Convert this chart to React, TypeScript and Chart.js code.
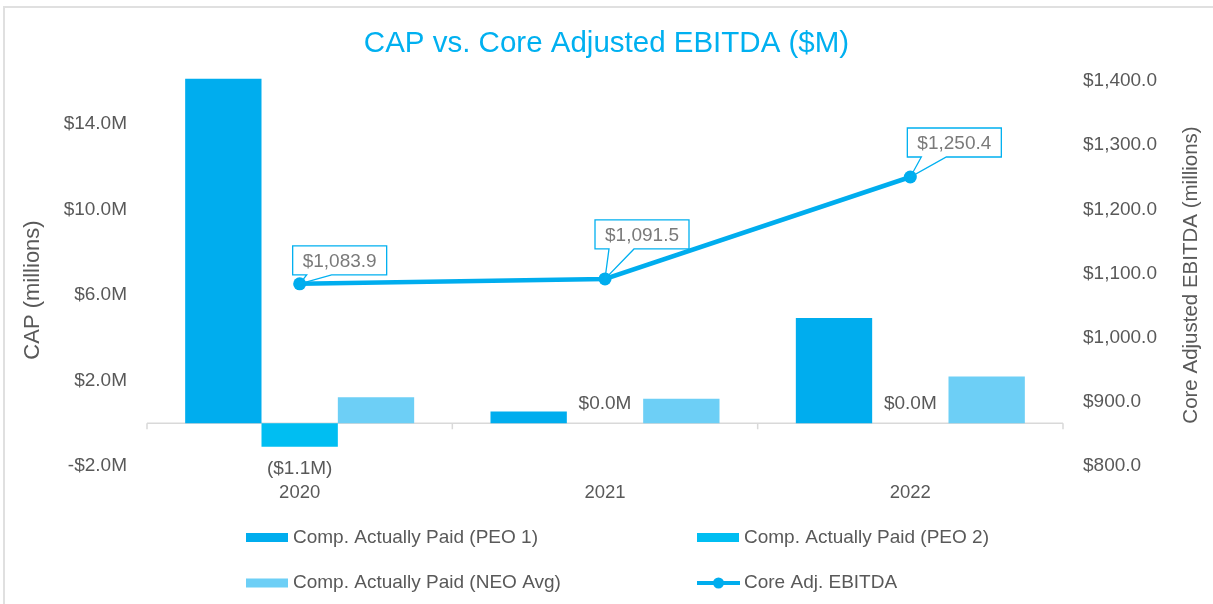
import React, { useEffect, useRef } from 'react';
import { Chart, registerables } from 'chart.js';

Chart.register(...registerables);

// ---------- data ----------
const categories = ['2020', '2021', '2022'];
const seriesNames = [
  'Comp. Actually Paid (PEO 1)',
  'Comp. Actually Paid (PEO 2)',
  'Comp. Actually Paid (NEO Avg)',
  'Core Adj. EBITDA',
];
const capPeo1 = [16.1, 0.55, 4.92];
const capPeo2 = [-1.1, 0, 0];
const capNeoAvg = [1.22, 1.14, 2.18];
const coreAdjEbitda = [1083.9, 1091.5, 1250.4];
const leftTicks = [-2, 2, 6, 10, 14];
const rightTicks = [800, 900, 1000, 1100, 1200, 1300, 1400];

// ---------- style ----------
const FONT = "'Liberation Sans', Arial, sans-serif";
const GRAY = '#595959';
const LABEL_GRAY = '#7a7a7a';
const C_PEO1 = '#00ADEE';
const C_PEO2 = '#00BEF2';
const C_NEO = '#6DCFF6';
const C_LINE = '#00ADEE';
const C_TITLE = '#00B0F0';
const calloutOffsets = [
  { dx: -7, dy: -9 },
  { dx: -10, dy: -30 },
  { dx: -3, dy: -20 },
];
const legendCols = [246, 697];
const legendRows = [537.5, 583];

const fmtLeft = (v: number) => (v < 0 ? '-$' + Math.abs(v).toFixed(1) + 'M' : '$' + v.toFixed(1) + 'M');
const fmtRight = (v: number) =>
  '$' + v.toLocaleString('en-US', { minimumFractionDigits: 1, maximumFractionDigits: 1 });
const fmtBar = (v: number) => (v < 0 ? '($' + Math.abs(v).toFixed(1) + 'M)' : '$' + v.toFixed(1) + 'M');

const overlayPlugin = {
  id: 'overlay',
  beforeDatasetsDraw(chart: any) {
    const { ctx, chartArea, scales } = chart;
    const y0 = scales.y.getPixelForValue(0);
    ctx.save();
    ctx.strokeStyle = '#d9d9d9';
    ctx.lineWidth = 1.5;
    ctx.beginPath();
    ctx.moveTo(chartArea.left, y0);
    ctx.lineTo(chartArea.right, y0);
    const n = categories.length;
    for (let i = 0; i <= n; i++) {
      const x = chartArea.left + ((chartArea.right - chartArea.left) * i) / n;
      ctx.moveTo(x, y0);
      ctx.lineTo(x, y0 + 6);
    }
    ctx.stroke();
    ctx.restore();
  },
  afterDatasetsDraw(chart: any) {
    const { ctx } = chart;
    ctx.save();
    ctx.font = `19px ${FONT}`;
    ctx.textAlign = 'center';
    ctx.textBaseline = 'middle';
    // PEO 2 bar labels
    const m1 = chart.getDatasetMeta(1);
    m1.data.forEach((bar: any, i: number) => {
      const v = capPeo2[i];
      const y = v < 0 ? bar.y + 22 : bar.y - 19;
      ctx.fillStyle = GRAY;
      ctx.fillText(fmtBar(v), bar.x, y);
    });
    // line callouts
    const m3 = chart.getDatasetMeta(3);
    m3.data.forEach((pt: any, i: number) => {
      const w = 94;
      const h = 29;
      const bx = pt.x + calloutOffsets[i].dx;
      const by = pt.y + calloutOffsets[i].dy - h;
      ctx.fillStyle = '#ffffff';
      ctx.fillRect(bx, by, w, h);
      ctx.strokeStyle = C_TITLE;
      ctx.lineWidth = 1.3;
      ctx.beginPath();
      ctx.moveTo(bx, by);
      ctx.lineTo(bx + w, by);
      ctx.lineTo(bx + w, by + h);
      ctx.lineTo(bx + 39, by + h);
      ctx.lineTo(pt.x, pt.y);
      ctx.lineTo(bx + 14, by + h);
      ctx.lineTo(bx, by + h);
      ctx.closePath();
      ctx.stroke();
      ctx.fillStyle = LABEL_GRAY;
      ctx.fillText(fmtRight(coreAdjEbitda[i]), bx + w / 2, by + h / 2 + 1);
    });
    ctx.restore();
  },
  afterDraw(chart: any) {
    const { ctx } = chart;
    ctx.save();
    // axis titles
    ctx.fillStyle = GRAY;
    ctx.textAlign = 'center';
    ctx.textBaseline = 'middle';
    ctx.font = `22px ${FONT}`;
    ctx.save();
    ctx.translate(33, 290);
    ctx.rotate(-Math.PI / 2);
    ctx.fillText('CAP (millions)', 0, 0);
    ctx.restore();
    ctx.font = `20.5px ${FONT}`;
    ctx.save();
    ctx.translate(1191, 275);
    ctx.rotate(-Math.PI / 2);
    ctx.fillText('Core Adjusted EBITDA (millions)', 0, 0);
    ctx.restore();
    // legend
    ctx.font = `19px ${FONT}`;
    ctx.textAlign = 'left';
    chart.data.datasets.forEach((ds: any, i: number) => {
      const x0 = legendCols[i % 2];
      const yc = legendRows[Math.floor(i / 2)];
      if (ds.type === 'line') {
        ctx.strokeStyle = ds.borderColor;
        ctx.lineWidth = 4;
        ctx.beginPath();
        ctx.moveTo(x0, yc);
        ctx.lineTo(x0 + 43, yc);
        ctx.stroke();
        ctx.fillStyle = ds.borderColor;
        ctx.beginPath();
        ctx.arc(x0 + 21.5, yc, 5.5, 0, Math.PI * 2);
        ctx.fill();
      } else {
        ctx.fillStyle = ds.backgroundColor;
        ctx.fillRect(x0, yc - 4.5, 42, 9);
      }
      ctx.fillStyle = GRAY;
      ctx.fillText(ds.label, x0 + 47, yc);
    });
    ctx.restore();
  },
};

export default function App() {
  const ref = useRef<HTMLCanvasElement>(null);
  useEffect(() => {
    Chart.defaults.font.family = FONT;
    const barCommon = {
      categoryPercentage: 0.75,
      barPercentage: 1,
      borderWidth: 0,
      order: 1,
      yAxisID: 'y',
    };
    const chart = new Chart(ref.current as HTMLCanvasElement, {
      type: 'bar',
      data: {
        labels: categories,
        datasets: [
          { ...barCommon, label: seriesNames[0], data: capPeo1, backgroundColor: C_PEO1, clip: false } as any,
          { ...barCommon, label: seriesNames[1], data: capPeo2, backgroundColor: C_PEO2 } as any,
          { ...barCommon, label: seriesNames[2], data: capNeoAvg, backgroundColor: C_NEO } as any,
          {
            type: 'line',
            label: seriesNames[3],
            data: coreAdjEbitda,
            yAxisID: 'y1',
            order: 0,
            borderColor: C_LINE,
            backgroundColor: C_LINE,
            borderWidth: 4.5,
            tension: 0,
            fill: false,
            pointRadius: 6.5,
            pointHoverRadius: 6.5,
            pointBorderWidth: 0,
            pointBackgroundColor: C_LINE,
          } as any,
        ],
      },
      options: {
        responsive: false,
        animation: false,
        devicePixelRatio: 1,
        layout: { padding: { left: 0, right: 0, top: 0, bottom: 98 } },
        plugins: {
          legend: { display: false },
          tooltip: { enabled: false },
          title: {
            display: true,
            text: 'CAP vs. Core Adjusted EBITDA ($M)',
            color: C_TITLE,
            font: { size: 29.5, weight: 'normal', family: FONT },
            padding: { top: 26.5, bottom: 19.1 },
          },
        },
        scales: {
          x: {
            type: 'category',
            grid: { display: false, drawTicks: false },
            border: { display: false },
            ticks: { color: GRAY, font: { size: 18.5 }, padding: 16 },
            afterFit: (s: any) => {
              s.height = 40;
            },
          },
          y: {
            type: 'linear',
            position: 'left',
            min: -2,
            max: 16,
            grid: { display: false, drawTicks: false },
            border: { display: false },
            ticks: { color: GRAY, font: { size: 19 }, padding: 20, callback: (v: any) => fmtLeft(Number(v)) },
            afterBuildTicks: (s: any) => {
              s.ticks = leftTicks.map((v) => ({ value: v }));
            },
            afterFit: (s: any) => {
              s.width = 147;
            },
          },
          y1: {
            type: 'linear',
            position: 'right',
            min: 800,
            max: 1400,
            grid: { display: false, drawTicks: false },
            border: { display: false },
            ticks: { color: GRAY, font: { size: 19 }, padding: 20, callback: (v: any) => fmtRight(Number(v)) },
            afterBuildTicks: (s: any) => {
              s.ticks = rightTicks.map((v) => ({ value: v }));
            },
            afterFit: (s: any) => {
              s.width = 150;
            },
          },
        },
      } as any,
      plugins: [overlayPlugin],
    });
    return () => chart.destroy();
  }, []);

  return (
    <div
      style={{
        position: 'fixed',
        left: 0,
        top: 0,
        width: 1213,
        height: 604,
        overflow: 'hidden',
        background: '#ffffff',
      }}
    >
      <canvas ref={ref} width={1213} height={604} style={{ position: 'absolute', left: 0, top: 0, display: 'block' }} />
      <div
        style={{
          position: 'absolute',
          left: 3,
          top: 6,
          width: 1260,
          height: 660,
          border: '2px solid #e0e0e0',
          boxSizing: 'border-box',
          pointerEvents: 'none',
        }}
      />
    </div>
  );
}
